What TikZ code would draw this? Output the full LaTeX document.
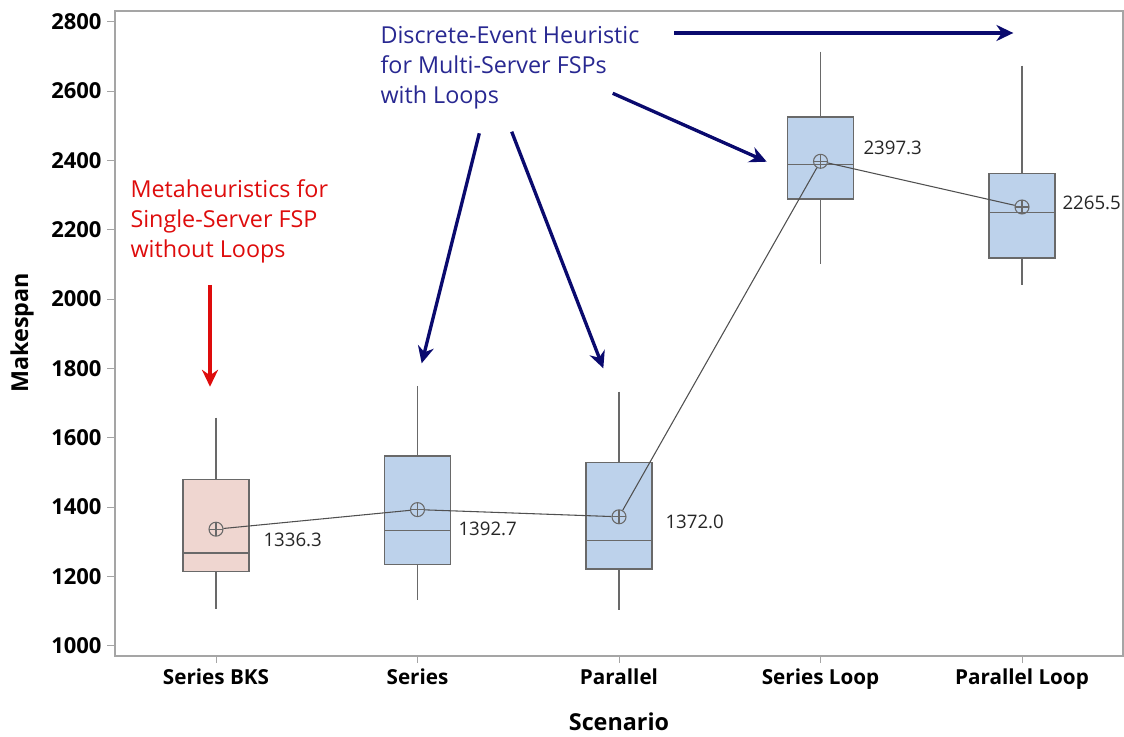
\documentclass[tikz,border=0pt]{standalone}
\usepackage{fontspec}
\setmainfont{Open Sans}
\usetikzlibrary{positioning}

\definecolor{frameGray}{RGB}{165,165,165}
\definecolor{boxEdge}{RGB}{105,105,105}
\definecolor{meanGray}{RGB}{80,80,80}
\definecolor{pinkFill}{RGB}{239,214,208}
\definecolor{blueFill}{RGB}{189,210,235}
\definecolor{navyArrow}{RGB}{10,10,110}
\definecolor{navyText}{RGB}{40,40,145}
\definecolor{redMark}{RGB}{222,12,12}

\tikzset{every picture/.style={line width=0.75pt}}
\tikzset{
	boxline/.style={color=boxEdge, line width=1.1},
	meanmark/.style={circle, draw=boxEdge, line width=0.8, minimum size=10.5pt, inner sep=0pt,
		path picture={\draw [boxEdge, line width=0.8] (path picture bounding box.north) -- (path picture bounding box.south)
			(path picture bounding box.west) -- (path picture bounding box.east);}},
	meanlabel/.style={font=\fontsize{14}{16}\selectfont, text=black!85, inner sep=0pt, anchor=west},
	ticklabel/.style={font=\fontsize{16.5}{18}\selectfont\bfseries, inner sep=0pt, anchor=east},
	catlabel/.style={font=\fontsize{15.5}{18}\selectfont\bfseries, inner sep=0pt, anchor=base},
	axtitle/.style={font=\fontsize{17.5}{20}\selectfont\bfseries, inner sep=0pt},
	note/.style={font=\fontsize{17.5}{22.5}\selectfont, align=left, inner sep=0pt, anchor=north west}
}

\begin{document}
\begin{tikzpicture}[x=0.75pt,y=0.75pt,yscale=-1,xscale=1]
		\useasboundingbox (0,0) rectangle (1124,737);

		%Shape: Rectangle [frame]
		\draw [color=frameGray, line width=1.1] (115,11) rectangle (1123,656);

		%Straight Lines [y ticks]
		\foreach \v in {1000,1200,...,2800}{
			\draw [color=frameGray] (107,{21.7+(2800-\v)*0.34667}) -- (115,{21.7+(2800-\v)*0.34667});
			\node [ticklabel] (t\v) at (102,{21.7+(2800-\v)*0.34667}) {\v};
		}

		%Straight Lines [x ticks]
		\foreach \x/\lab [count=\i] in {216/Series BKS, 417.5/Series, 619/Parallel, 820.5/Series Loop, 1022/Parallel Loop}{
			\draw [color=frameGray] (\x,656) -- (\x,663);
			\node [catlabel] (c\i) at (\x,684) {\lab};
		}

		%Shape: Boxes and whiskers
		\foreach \x/\wt/\bt/\md/\bb/\wb/\fc in {216/417.7/479.7/553/571.7/608.7/pinkFill,
				417.5/386/456/530.7/564.3/600/blueFill,
				619/391.7/462.7/540.7/569/610/blueFill,
				820.5/51.7/117/164.7/199/264.3/blueFill,
				1022/65.7/173.3/212.7/258/285.3/blueFill}{
			\draw [boxline] (\x,\wt) -- (\x,\bt);
			\draw [boxline] (\x,\bb) -- (\x,\wb);
			\draw [boxline, fill=\fc] (\x-33,\bt) rectangle (\x+33,\bb);
			\draw [boxline] (\x-33,\md) -- (\x+33,\md);
		}

		%Shape: Circle [means]
		\node [meanmark] (m1) at (216,529.2) {};
		\node [meanmark] (m2) at (417.5,509.6) {};
		\node [meanmark] (m3) at (619,516.8) {};
		\node [meanmark] (m4) at (820.5,161.3) {};
		\node [meanmark] (m5) at (1022,207) {};
		%Straight Lines [mean line]
		\draw [color=meanGray, line width=0.8] (m1) -- (m2) -- (m3) -- (m4) -- (m5);

		% Text Node
		\node [meanlabel] (v1) at (263,540) {1336.3};
		\node [meanlabel] (v2) at (458,529) {1392.7};
		\node [meanlabel] (v3) at (665,522) {1372.0};
		\node [meanlabel] (v4) at (863,148) {2397.3};
		\node [meanlabel] (v5) at (1062,203) {2265.5};

		% Text Node
		\node [axtitle, rotate=90] (yTitle) at (22,333) {Makespan};
		\node [axtitle, anchor=base] (xTitle) at (619,730) {Scenario};

		% Text Node
		\node [note, text=redMark] (metaNote) at (130,179) {Metaheuristics for\\Single-Server FSP\\without Loops};
		\node [note, text=navyText] (desNote) at (380,25.5) {Discrete-Event Heuristic\\for Multi-Server FSPs\\with Loops};

		%Straight Lines [arrows]
		\coordinate (r1t) at (210,285);
		\coordinate (r1h) at (210,386.7);
		\coordinate (a1t) at (479.3,133.3);
		\coordinate (a1h) at (421.7,363.3);
		\coordinate (a2t) at (511.7,131.7);
		\coordinate (a2h) at (603.3,368.3);
		\coordinate (a3t) at (612.7,93.3);
		\coordinate (a3h) at (766.7,161.7);
		\coordinate (a4t) at (674,33);
		\coordinate (a4h) at (1013.3,33);

		\draw [color=redMark, line width=2.5, shorten >=7] (r1t) -- (r1h);
		\draw [shift={(r1h)}, rotate = 270, scale=1.6] [fill=redMark][line width=0.08] [draw opacity=0] (10.72,-5.15) -- (0,0) -- (10.72,5.15) -- (7.12,0) -- cycle ;
		\draw [color=navyArrow, line width=2.5, shorten >=7] (a1t) -- (a1h);
		\draw [shift={(a1h)}, rotate = 284.06, scale=1.6] [fill=navyArrow][line width=0.08] [draw opacity=0] (10.72,-5.15) -- (0,0) -- (10.72,5.15) -- (7.12,0) -- cycle ;
		\draw [color=navyArrow, line width=2.5, shorten >=7] (a2t) -- (a2h);
		\draw [shift={(a2h)}, rotate = 248.84, scale=1.6] [fill=navyArrow][line width=0.08] [draw opacity=0] (10.72,-5.15) -- (0,0) -- (10.72,5.15) -- (7.12,0) -- cycle ;
		\draw [color=navyArrow, line width=2.5, shorten >=7] (a3t) -- (a3h);
		\draw [shift={(a3h)}, rotate = 203.95, scale=1.6] [fill=navyArrow][line width=0.08] [draw opacity=0] (10.72,-5.15) -- (0,0) -- (10.72,5.15) -- (7.12,0) -- cycle ;
		\draw [color=navyArrow, line width=2.5, shorten >=7] (a4t) -- (a4h);
		\draw [shift={(a4h)}, rotate = 180, scale=1.6] [fill=navyArrow][line width=0.08] [draw opacity=0] (10.72,-5.15) -- (0,0) -- (10.72,5.15) -- (7.12,0) -- cycle ;

\end{tikzpicture}
\end{document}
